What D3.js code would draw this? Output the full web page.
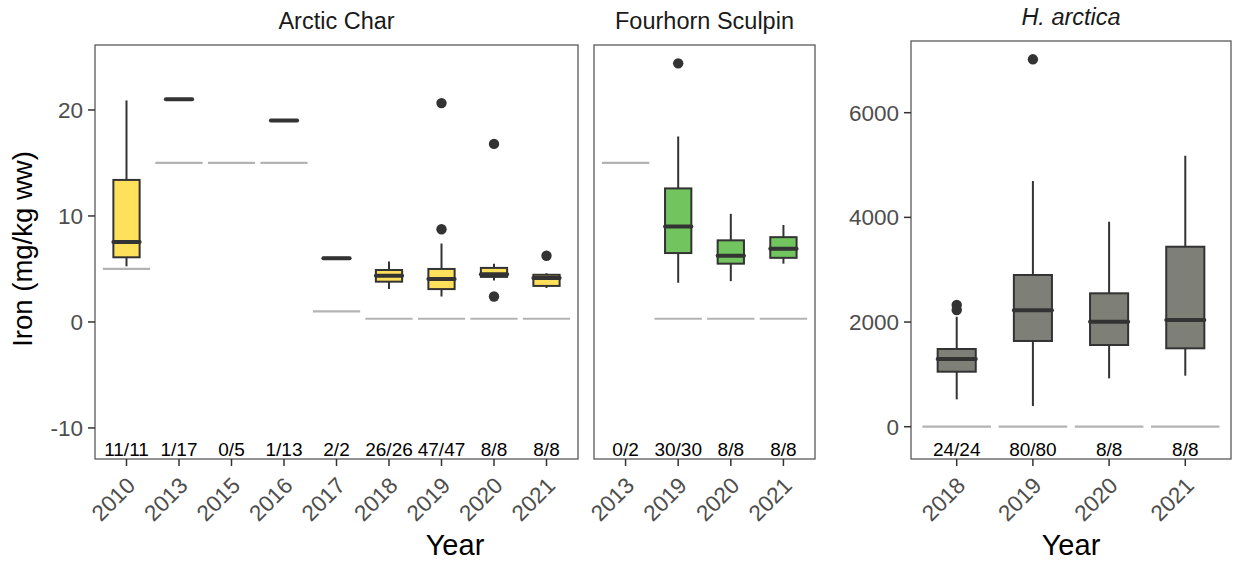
<!DOCTYPE html>
<html>
<head>
<meta charset="utf-8">
<script src="https://cdn.jsdelivr.net/npm/d3@7"></script>
<style>
  html, body { margin: 0; padding: 0; background: #fff; }
  svg { display: block; }
  text { font-family: Arial, "Liberation Sans", Helvetica, sans-serif; }
</style>
</head>
<body>
<svg id="chart" width="1235" height="562"></svg>
<script>
// ---- Arctic Char (mg/kg ww) ----
const charYears   = ["2010", "2013", "2015", "2016", "2017", "2018", "2019", "2020", "2021"];
const charLow     = [5.25, 21.0, null, 19.0, 5.95, 3.1, 2.4, 3.9, 3.2];
const charQ1      = [6.1, 21.0, null, 19.0, 5.95, 3.8, 3.1, 4.25, 3.4];
const charMedian  = [7.55, 21.0, null, 19.0, 6.0, 4.35, 4.05, 4.5, 4.15];
const charQ3      = [13.4, 21.0, null, 19.0, 6.05, 4.9, 5.0, 5.1, 4.45];
const charHigh    = [20.9, 21.0, null, 19.0, 6.05, 5.7, 7.4, 5.5, 4.6];
const charOutliers = [[], [], [], [], [], [], [20.65, 8.75], [16.8, 2.4], [6.25]];
const charLimit   = [5, 15, 15, 15, 1, 0.3, 0.3, 0.3, 0.3];
const charCounts  = ["11/11", "1/17", "0/5", "1/13", "2/2", "26/26", "47/47", "8/8", "8/8"];

// ---- Fourhorn Sculpin (mg/kg ww) ----
const sculpinYears   = ["2013", "2019", "2020", "2021"];
const sculpinLow     = [null, 3.7, 3.85, 5.5];
const sculpinQ1      = [null, 6.5, 5.5, 6.05];
const sculpinMedian  = [null, 9.0, 6.25, 6.9];
const sculpinQ3      = [null, 12.6, 7.7, 8.0];
const sculpinHigh    = [null, 17.5, 10.2, 9.15];
const sculpinOutliers = [[], [24.4], [], []];
const sculpinLimit   = [15, 0.3, 0.3, 0.3];
const sculpinCounts  = ["0/2", "30/30", "8/8", "8/8"];

// ---- H. arctica (mg/kg ww) ----
const hYears   = ["2018", "2019", "2020", "2021"];
const hLow     = [523, 395, 924, 975];
const hQ1      = [1051, 1638, 1561, 1498];
const hMedian  = [1293, 2225, 2007, 2039];
const hQ3      = [1485, 2899, 2549, 3439];
const hHigh    = [2100, 4695, 3917, 5178];
const hOutliers = [[2325, 2230], [7020], [], []];
const hLimit   = [0, 0, 0, 0];
const hCounts  = ["24/24", "80/80", "8/8", "8/8"];

// tick labels
const fishTicks = [-10, 0, 10, 20];
const hTicks = [0, 2000, 4000, 6000];

const svg = d3.select("#chart");
const INK = "#333333";
const AXIS_TEXT = "#4d4d4d";
const TICK_FONT = 22.5;

function drawPanel(opt) {
  const x = d3.scalePoint().domain(opt.years).range([opt.left, opt.right]).padding(0.6);
  const y = d3.scaleLinear().domain(opt.yDomain).range([opt.bottom, opt.top]);
  const step = x.step();
  const boxW = step * 0.5;
  const limW = step * 0.9;
  const g = svg.append("g");

  const rows = opt.years.map((yr, i) => ({
    yr, low: opt.low[i], q1: opt.q1[i], med: opt.median[i], q3: opt.q3[i],
    high: opt.high[i], out: opt.outliers[i], lim: opt.limit[i], n: opt.counts[i]
  }));

  // detection limit segments
  g.selectAll("line.lim").data(rows).join("line")
    .attr("x1", d => x(d.yr) - limW / 2).attr("x2", d => x(d.yr) + limW / 2)
    .attr("y1", d => y(d.lim)).attr("y2", d => y(d.lim))
    .attr("stroke", "#b3b3b3").attr("stroke-width", 2.2);

  const boxes = rows.filter(d => d.med != null);
  // whiskers
  g.selectAll("line.wu").data(boxes).join("line")
    .attr("x1", d => x(d.yr)).attr("x2", d => x(d.yr))
    .attr("y1", d => y(d.q3)).attr("y2", d => y(d.high))
    .attr("stroke", INK).attr("stroke-width", 2);
  g.selectAll("line.wl").data(boxes).join("line")
    .attr("x1", d => x(d.yr)).attr("x2", d => x(d.yr))
    .attr("y1", d => y(d.q1)).attr("y2", d => y(d.low))
    .attr("stroke", INK).attr("stroke-width", 2);
  // boxes
  g.selectAll("rect.box").data(boxes).join("rect")
    .attr("x", d => x(d.yr) - boxW / 2).attr("width", boxW)
    .attr("y", d => y(d.q3)).attr("height", d => Math.max(0, y(d.q1) - y(d.q3)))
    .attr("fill", opt.fill).attr("stroke", INK).attr("stroke-width", 2);
  // medians
  g.selectAll("line.med").data(boxes).join("line")
    .attr("x1", d => x(d.yr) - boxW / 2).attr("x2", d => x(d.yr) + boxW / 2)
    .attr("y1", d => y(d.med)).attr("y2", d => y(d.med))
    .attr("stroke", INK).attr("stroke-width", 4).attr("stroke-linecap", "round");
  // outliers
  const pts = rows.flatMap(d => d.out.map(v => ({ yr: d.yr, v })));
  g.selectAll("circle.out").data(pts).join("circle")
    .attr("cx", d => x(d.yr)).attr("cy", d => y(d.v)).attr("r", 5.2)
    .attr("fill", INK);

  // sample counts
  g.selectAll("text.n").data(rows).join("text")
    .attr("x", d => x(d.yr)).attr("y", opt.bottom - 3.5)
    .attr("text-anchor", "middle").attr("font-size", 19).attr("fill", "#000")
    .text(d => d.n);

  // frame
  g.append("rect")
    .attr("x", opt.left).attr("y", opt.top)
    .attr("width", opt.right - opt.left).attr("height", opt.bottom - opt.top)
    .attr("fill", "none").attr("stroke", "#5a5a5a").attr("stroke-width", 1.3);

  // x axis
  const xa = g.append("g");
  xa.selectAll("line").data(opt.years).join("line")
    .attr("x1", d => x(d)).attr("x2", d => x(d))
    .attr("y1", opt.bottom).attr("y2", opt.bottom + 7)
    .attr("stroke", INK).attr("stroke-width", 1.5);
  xa.selectAll("text").data(opt.years).join("text")
    .attr("transform", d => `translate(${x(d) + 10},${opt.bottom + 28}) rotate(-45)`)
    .attr("text-anchor", "end").attr("font-size", TICK_FONT).attr("fill", AXIS_TEXT)
    .text(d => d);

  // y axis
  if (opt.ticks) {
    const ya = g.append("g");
    ya.selectAll("line").data(opt.ticks).join("line")
      .attr("x1", opt.left - 7).attr("x2", opt.left)
      .attr("y1", d => y(d)).attr("y2", d => y(d))
      .attr("stroke", INK).attr("stroke-width", 1.5);
    ya.selectAll("text").data(opt.ticks).join("text")
      .attr("x", opt.left - 12).attr("y", d => y(d)).attr("dy", "0.36em")
      .attr("text-anchor", "end").attr("font-size", TICK_FONT).attr("fill", AXIS_TEXT)
      .text(d => d);
  }

  // strip title
  g.append("text")
    .attr("x", (opt.left + opt.right) / 2).attr("y", opt.top - 16)
    .attr("text-anchor", "middle").attr("font-size", 23.5).attr("fill", "#1a1a1a")
    .attr("font-style", opt.italic ? "italic" : "normal")
    .text(opt.title);
}

drawPanel({
  title: "Arctic Char", years: charYears, low: charLow, q1: charQ1, median: charMedian,
  q3: charQ3, high: charHigh, outliers: charOutliers, limit: charLimit, counts: charCounts,
  fill: "#FFE05A", left: 95, right: 578, top: 45, bottom: 459,
  yDomain: [-12.93, 26.13], ticks: fishTicks
});
drawPanel({
  title: "Fourhorn Sculpin", years: sculpinYears, low: sculpinLow, q1: sculpinQ1, median: sculpinMedian,
  q3: sculpinQ3, high: sculpinHigh, outliers: sculpinOutliers, limit: sculpinLimit, counts: sculpinCounts,
  fill: "#72C45E", left: 594, right: 815, top: 45, bottom: 459,
  yDomain: [-12.93, 26.13], ticks: null
});
drawPanel({
  title: "H. arctica", italic: true, years: hYears, low: hLow, q1: hQ1, median: hMedian,
  q3: hQ3, high: hHigh, outliers: hOutliers, limit: hLimit, counts: hCounts,
  fill: "#7E7F77", left: 911, right: 1231, top: 41, bottom: 459,
  yDomain: [-617, 7370], ticks: hTicks
});

// axis titles
svg.append("text")
  .attr("transform", "translate(32,249) rotate(-90)")
  .attr("text-anchor", "middle").attr("font-size", 27.5).attr("fill", "#000")
  .text("Iron (mg/kg ww)");
svg.append("text")
  .attr("x", 455).attr("y", 555)
  .attr("text-anchor", "middle").attr("font-size", 29).attr("fill", "#000")
  .text("Year");
svg.append("text")
  .attr("x", 1071).attr("y", 555)
  .attr("text-anchor", "middle").attr("font-size", 29).attr("fill", "#000")
  .text("Year");
</script>
</body>
</html>
